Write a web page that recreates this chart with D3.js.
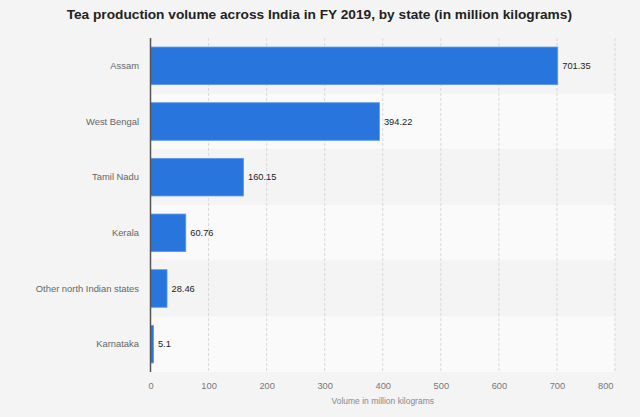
<!DOCTYPE html>
<html>
<head>
<meta charset="utf-8">
<script src="https://cdn.jsdelivr.net/npm/d3@7"></script>
<style>
  body { margin: 0; background: #f4f4f4; font-family: "Liberation Sans", Arial, sans-serif; }
  svg { display: block; }
</style>
</head>
<body>
<svg id="chart"></svg>
<script>
// data
const states = ["Assam", "West Bengal", "Tamil Nadu", "Kerala", "Other north Indian states", "Karnataka"];
const volumes = [701.35, 394.22, 160.15, 60.76, 28.46, 5.1];
const xTicks = [0, 100, 200, 300, 400, 500, 600, 700, 800];

const width = 640,
      height = 417,
      plotLeft = 150.5,
      plotRight = 615,
      plotTop = 38,
      plotBottom = 372;

const rows = states.map((s, i) => ({ state: s, value: volumes[i], i: i }));

const svg = d3.select('#chart')
    .attr('width', width)
    .attr('height', height);

svg.append('rect')
    .attr('width', width)
    .attr('height', height)
    .attr('fill', '#f4f4f4');

const xScale = d3.scaleLinear()
    .domain([0, 800])
    .range([plotLeft, plotRight]);

const yScale = d3.scaleBand()
    .domain(states)
    .range([plotTop, plotBottom])
    .paddingInner(0.325)
    .paddingOuter(0.1625);

// row stripes
const rowScale = d3.scaleBand().domain(states).range([plotTop, plotBottom]);
svg.append('g').selectAll('rect')
    .data(rows)
    .enter()
    .append('rect')
    .attr('x', plotLeft)
    .attr('y', d => rowScale(d.state))
    .attr('width', plotRight - plotLeft)
    .attr('height', rowScale.bandwidth())
    .attr('fill', d => d.i % 2 ? '#fafafa' : '#f4f4f4');

// dashed grid
svg.append('g').selectAll('line')
    .data(xTicks.slice(1))
    .enter()
    .append('line')
    .attr('x1', d => xScale(d))
    .attr('x2', d => xScale(d))
    .attr('y1', plotTop)
    .attr('y2', plotBottom)
    .attr('stroke', '#d8d8d8')
    .attr('stroke-width', 1)
    .attr('stroke-dasharray', '3,2');

// bars
svg.append('g').selectAll('.bar')
    .data(rows)
    .enter()
    .append('rect')
    .classed('bar', true)
    .attr('x', xScale(0))
    .attr('y', d => yScale(d.state))
    .attr('width', d => xScale(d.value) - xScale(0))
    .attr('height', yScale.bandwidth())
    .attr('fill', '#2876dd')
    .attr('stroke', '#5c97e6')
    .attr('stroke-width', 0.8);

// value labels
svg.append('g').selectAll('text')
    .data(rows)
    .enter()
    .append('text')
    .attr('x', d => xScale(d.value) + 4.5)
    .attr('y', d => yScale(d.state) + yScale.bandwidth() / 2)
    .attr('dy', '0.35em')
    .attr('font-size', 9.3)
    .attr('fill', '#222')
    .text(d => d.value);

// category axis
const yAxis = svg.append('g')
    .attr('transform', `translate(${plotLeft}, 0)`)
    .call(d3.axisLeft(yScale).tickSize(0).tickPadding(11.5));
yAxis.select('.domain').remove();
yAxis.selectAll('text')
    .attr('font-family', '"Liberation Sans", Arial, sans-serif')
    .attr('font-size', 9.4)
    .attr('fill', '#666');

svg.append('line')
    .attr('x1', plotLeft)
    .attr('x2', plotLeft)
    .attr('y1', plotTop)
    .attr('y2', plotBottom)
    .attr('stroke', '#555')
    .attr('stroke-width', 1.5);

// value axis
const xAxis = svg.append('g')
    .attr('transform', `translate(0, ${plotBottom})`)
    .call(d3.axisBottom(xScale).tickValues(xTicks).tickSize(0).tickPadding(10));
xAxis.select('.domain').remove();
xAxis.selectAll('text')
    .attr('font-family', '"Liberation Sans", Arial, sans-serif')
    .attr('font-size', 9.3)
    .attr('fill', '#777');
// last label pulled inside the plot edge
xAxis.selectAll('text')
    .filter(d => d === 800)
    .attr('text-anchor', 'end')
    .attr('x', -2);

svg.append('text')
    .attr('x', (plotLeft + plotRight) / 2)
    .attr('y', 404)
    .attr('text-anchor', 'middle')
    .attr('font-size', 8.5)
    .attr('fill', '#888')
    .text('Volume in million kilograms');

svg.append('text')
    .attr('x', 319.3)
    .attr('y', 18.8)
    .attr('text-anchor', 'middle')
    .attr('font-size', 13.7)
    .attr('font-weight', 'bold')
    .attr('fill', '#222')
    .text('Tea production volume across India in FY 2019, by state (in million kilograms)');
</script>
</body>
</html>
